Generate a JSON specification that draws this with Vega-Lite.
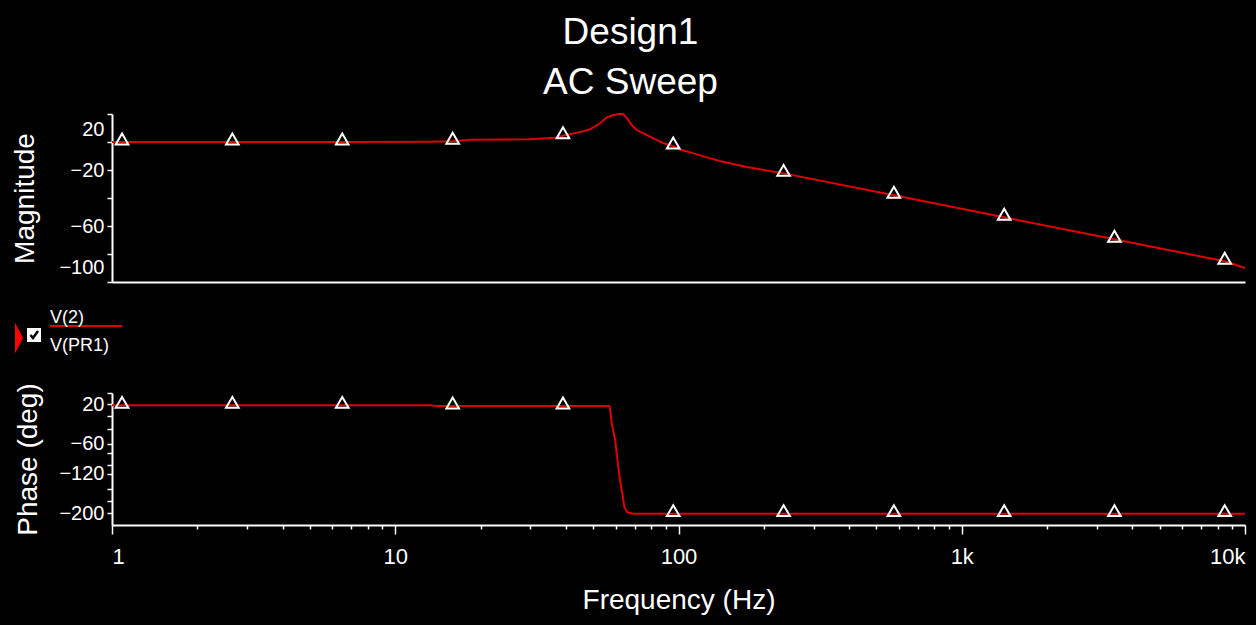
{
  "$schema": "https://vega.github.io/schema/vega-lite/v6.json",
  "background": "black",
  "padding": {"left": 11, "right": 11, "top": 14, "bottom": 11},
  "bounds": "flush",
  "spacing": 0,
  "config": {"view": {"stroke": null}, "font": "Liberation Sans"},
  "title": {
    "text": ["Design1", "AC Sweep"],
    "fontSize": 37,
    "font": "Liberation Sans",
    "fontWeight": "normal",
    "color": "white",
    "lineHeight": 50,
    "anchor": "middle",
    "frame": "bounds",
    "offset": 8
  },
  "datasets": {
    "mag": [
      {"f": 1, "db": 0, "m": 0},
      {"f": 1.085, "db": 0, "m": 1},
      {"f": 2.66, "db": 0, "m": 1},
      {"f": 6.5, "db": 0, "m": 1},
      {"f": 13.3, "db": 0.2, "m": 0},
      {"f": 15.95, "db": 0.6, "m": 1},
      {"f": 18.4, "db": 1.6, "m": 0},
      {"f": 29.9, "db": 1.9, "m": 0},
      {"f": 36.6, "db": 3.1, "m": 0},
      {"f": 39.1, "db": 4.5, "m": 1},
      {"f": 46, "db": 7.6, "m": 0},
      {"f": 48.7, "db": 9.1, "m": 0},
      {"f": 52.9, "db": 13.4, "m": 0},
      {"f": 55.9, "db": 17.6, "m": 0},
      {"f": 58.7, "db": 19.1, "m": 0},
      {"f": 61.6, "db": 20, "m": 0},
      {"f": 63.7, "db": 20, "m": 0},
      {"f": 65.8, "db": 16.9, "m": 0},
      {"f": 68.5, "db": 11.9, "m": 0},
      {"f": 71.4, "db": 8.4, "m": 0},
      {"f": 75.3, "db": 6.2, "m": 0},
      {"f": 81.5, "db": 2.6, "m": 0},
      {"f": 88.3, "db": -0.7, "m": 0},
      {"f": 95.8, "db": -2.9, "m": 1},
      {"f": 101.3, "db": -5.4, "m": 0},
      {"f": 113, "db": -8.1, "m": 0},
      {"f": 126, "db": -11, "m": 0},
      {"f": 140, "db": -13.6, "m": 0},
      {"f": 174, "db": -17.9, "m": 0},
      {"f": 235, "db": -22.4, "m": 1},
      {"f": 576, "db": -38.1, "m": 1},
      {"f": 1412, "db": -53.8, "m": 1},
      {"f": 3460, "db": -69.5, "m": 1},
      {"f": 8480, "db": -85.2, "m": 1},
      {"f": 10000, "db": -90, "m": 0}
    ],
    "phase": [
      {"f": 1, "p": 18, "m": 0},
      {"f": 1.085, "p": 18, "m": 1},
      {"f": 2.66, "p": 18, "m": 1},
      {"f": 6.5, "p": 18, "m": 1},
      {"f": 13.3, "p": 18, "m": 0},
      {"f": 14, "p": 16.5, "m": 0},
      {"f": 15.95, "p": 16.5, "m": 1},
      {"f": 39.1, "p": 16.5, "m": 1},
      {"f": 56.9, "p": 16.5, "m": 0},
      {"f": 57.3, "p": 12, "m": 0},
      {"f": 58.1, "p": -18, "m": 0},
      {"f": 59.8, "p": -53, "m": 0},
      {"f": 60.6, "p": -83, "m": 0},
      {"f": 61.4, "p": -110, "m": 0},
      {"f": 62.2, "p": -134, "m": 0},
      {"f": 63.5, "p": -164, "m": 0},
      {"f": 64.4, "p": -188, "m": 0},
      {"f": 65.9, "p": -198, "m": 0},
      {"f": 68.7, "p": -201, "m": 0},
      {"f": 95.8, "p": -201, "m": 1},
      {"f": 235, "p": -201, "m": 1},
      {"f": 576, "p": -201, "m": 1},
      {"f": 1412, "p": -201, "m": 1},
      {"f": 3460, "p": -201, "m": 1},
      {"f": 8480, "p": -201, "m": 1},
      {"f": 10000, "p": -201, "m": 0}
    ]
  },
  "vconcat": [
    {
      "width": 1133,
      "height": 168,
      "data": {"name": "mag"},
      "encoding": {
        "x": {
          "field": "f", "type": "quantitative",
          "scale": {"type": "log", "domain": [1, 10000], "nice": false},
          "axis": {"title": null, "labels": false, "ticks": false, "grid": false, "domainColor": "white", "domainWidth": 2}
        },
        "y": {
          "field": "db", "type": "quantitative",
          "scale": {"domain": [-100, 20], "nice": false, "zero": false},
          "axis": {
            "title": "Magnitude", "grid": false,
            "values": [-100, -80, -60, -40, -20, 0, 20],
            "labelExpr": "indexof([20, -20, -60, -100], datum.value) >= 0 ? datum.label : ''",
            "labelOverlap": false,
            "labelFlush": true, "labelFlushOffset": -5,
            "labelColor": "white", "labelFont": "Liberation Sans", "labelFontSize": 20, "labelPadding": 3,
            "domainColor": "white", "domainWidth": 2, "tickColor": "white", "tickWidth": 1.5, "tickSize": 5,
            "titleColor": "white", "titleFont": "Liberation Sans", "titleFontSize": 28, "titleFontWeight": "normal", "titlePadding": 19
          }
        }
      },
      "layer": [
        {"mark": {"type": "line", "color": "#e00000", "strokeWidth": 2}},
        {
          "transform": [{"filter": "datum.m == 1"}],
          "mark": {"type": "point", "shape": "triangle-up", "filled": false, "stroke": "white", "strokeWidth": 2, "opacity": 1, "size": 160, "yOffset": -3}
        }
      ]
    },
    {
      "width": 1133,
      "height": 111,
      "encoding": {
        "x": {"field": "x", "type": "quantitative", "scale": {"domain": [0, 1133], "nice": false, "zero": false}, "axis": null},
        "y": {"field": "y", "type": "quantitative", "scale": {"domain": [0, 111], "nice": false, "reverse": true}, "axis": null}
      },
      "layer": [
        {
          "data": {"values": [{"x": -93, "y": 56}]},
          "mark": {"type": "point", "shape": "M-0.26,-1L0.26,0L-0.26,1Z", "filled": true, "color": "#ff0000", "opacity": 1, "size": 961}
        },
        {
          "data": {"values": [{"x": -78, "y": 53}]},
          "mark": {"type": "point", "shape": "square", "filled": true, "color": "white", "opacity": 1, "size": 196}
        },
        {
          "data": {"values": [{"x": -78, "y": 53}]},
          "mark": {"type": "point", "shape": "M-0.7,0L-0.2,0.6L0.8,-0.8", "filled": false, "stroke": "black", "strokeWidth": 2.5, "opacity": 1, "size": 100}
        },
        {
          "data": {"values": [{"x": -62, "x2": 10, "y": 44}]},
          "mark": {"type": "rule", "color": "#e00000", "strokeWidth": 2},
          "encoding": {"x2": {"field": "x2"}}
        },
        {
          "data": {"values": [{"x": -62, "y": 36, "t": "V(2)"}, {"x": -62, "y": 64, "t": "V(PR1)"}]},
          "mark": {"type": "text", "align": "left", "baseline": "middle", "color": "white", "font": "Liberation Sans", "fontSize": 18},
          "encoding": {"text": {"field": "t"}}
        }
      ]
    },
    {
      "width": 1133,
      "height": 132,
      "data": {"name": "phase"},
      "encoding": {
        "x": {
          "field": "f", "type": "quantitative",
          "scale": {"type": "log", "domain": [1, 10000], "nice": false},
          "axis": {
            "title": "Frequency (Hz)", "grid": false,
            "values": [1, 2, 3, 4, 5, 6, 7, 8, 9, 10, 20, 30, 40, 50, 60, 70, 80, 90, 100, 200, 300, 400, 500, 600, 700, 800, 900, 1000, 2000, 3000, 4000, 5000, 6000, 7000, 8000, 9000, 10000],
            "labelExpr": "datum.value == 1 ? '1' : datum.value == 10 ? '10' : datum.value == 100 ? '100' : datum.value == 1000 ? '1k' : datum.value == 10000 ? '10k' : ''",
            "labelOverlap": false,
            "labelFlush": true,
            "tickSize": {"condition": {"test": "indexof([1, 10, 100, 1000, 10000], datum.value) >= 0", "value": 9}, "value": 4},
            "labelColor": "white", "labelFont": "Liberation Sans", "labelFontSize": 22, "labelPadding": 12,
            "domainColor": "white", "domainWidth": 2, "tickColor": "white", "tickWidth": 1.5,
            "titleColor": "white", "titleFont": "Liberation Sans", "titleFontSize": 28, "titleFontWeight": "normal", "titlePadding": 19
          }
        },
        "y": {
          "field": "p", "type": "quantitative",
          "scale": {"domain": [-224, 43], "nice": false, "zero": false},
          "axis": {
            "title": "Phase (deg)", "grid": false,
            "values": [43, 20, -4.4, -28.9, -60, -77.8, -102.2, -120, -151.1, -175.6, -200],
            "labelExpr": "indexof([20, -60, -120, -200], datum.value) >= 0 ? datum.label : ''",
            "labelOverlap": false,
            "labelFlush": false,
            "labelColor": "white", "labelFont": "Liberation Sans", "labelFontSize": 20, "labelPadding": 3,
            "domainColor": "white", "domainWidth": 2, "tickColor": "white", "tickWidth": 1.5, "tickSize": 5,
            "titleColor": "white", "titleFont": "Liberation Sans", "titleFontSize": 28, "titleFontWeight": "normal", "titlePadding": 16
          }
        }
      },
      "layer": [
        {"mark": {"type": "line", "color": "#e00000", "strokeWidth": 2}},
        {
          "transform": [{"filter": "datum.m == 1"}],
          "mark": {"type": "point", "shape": "triangle-up", "filled": false, "stroke": "white", "strokeWidth": 2, "opacity": 1, "size": 160, "yOffset": -3}
        }
      ]
    }
  ]
}
